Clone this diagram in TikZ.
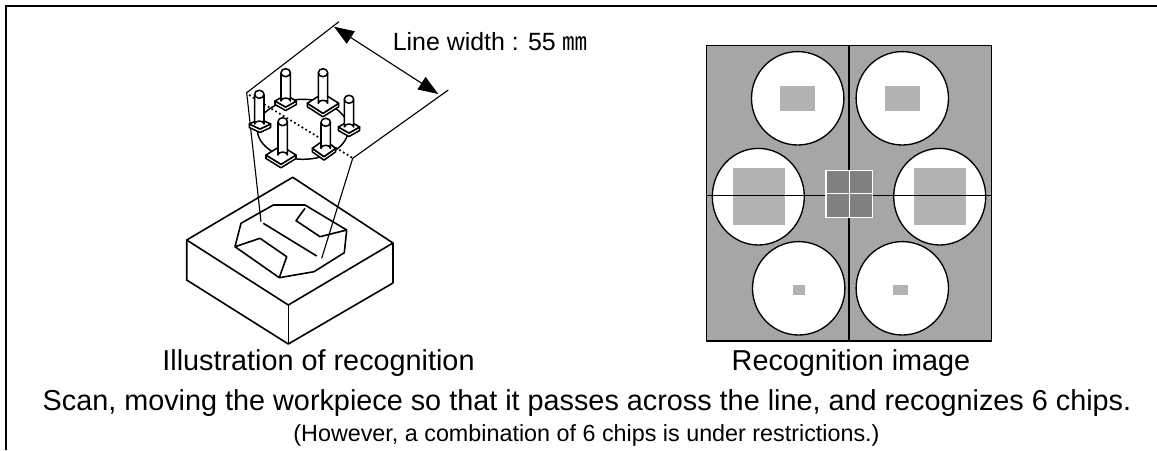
\documentclass[tikz,border=0pt]{standalone}
\usepackage{fontspec}
\setmainfont{Liberation Sans}
\newfontfamily\cjkfont{Noto Sans CJK JP}
\usetikzlibrary{arrows.meta}
\tikzset{
  frameline/.style={line width=1.5pt,black},
  solid line/.style={line width=1.2pt,black,line join=round},
  thin line/.style={line width=0.85pt,black,line join=round},
  pin line/.style={line width=1.15pt,black,fill=white,line join=round},
  capbig/.style={anchor=base,inner sep=0pt,font=\fontsize{21.6pt}{24pt}\selectfont},
  caplabel/.style={anchor=base west,inner sep=0pt,font=\fontsize{18.7pt}{22pt}\selectfont},
  capsmall/.style={anchor=base,inner sep=0pt,font=\fontsize{17.5pt}{20pt}\selectfont},
  panel/.style={fill=panelgray,draw=black,line width=1pt},
  disc/.style={fill=white,draw=black,line width=1pt},
  chip/.style={fill=chipgray,draw=none},
  crossline/.style={draw=black,line width=1pt},
  centergrid/.style={fill=centergray,draw=white,line width=0.8pt},
}
\definecolor{panelgray}{HTML}{A6A6A6}
\definecolor{chipgray}{HTML}{B2B2B2}
\definecolor{centergray}{HTML}{808080}
% #1 shaft x, #2 shaft top y, #3 pad x, #4 pad y, #5 pad half width, #6 pad half height, #7 shaft half width
\newcommand{\chipin}[7]{%
  \draw[pin line] (#3-#5,#4) -- (#3-#5,#4+3.5) -- (#3,#4+#6+3.5) -- (#3+#5,#4+3.5) -- (#3+#5,#4) -- (#3,#4+#6) -- cycle;
  \draw[pin line] (#3-#5,#4) -- (#3,#4-#6) -- (#3+#5,#4) -- (#3,#4+#6) -- cycle;
  \draw[pin line] (#1-#7,#2) -- (#1-#7,#4) arc[start angle=180,end angle=360,x radius=#7,y radius=3] -- (#1+#7,#2);
  \draw[pin line] (#1,#2) ellipse[x radius=#7,y radius=4];
}
\begin{document}
\begin{tikzpicture}[x=0.75pt,y=-0.75pt]
\useasboundingbox (0,0) rectangle (1157,450);
% outer frame
\coordinate (fa) at (6,450);
\coordinate (fb) at (6,6);
\coordinate (fc) at (1157,6);
\draw[frameline] (fa) -- (fb) -- (fc);

% scan band
\coordinate (ba) at (339,21.7);
\coordinate (bb) at (246.7,92.7);
\coordinate (bc) at (261,221.7);
\coordinate (bd) at (448.3,90);
\coordinate (be) at (352.7,158.3);
\coordinate (bf) at (321.7,258.3);
\coordinate (aa) at (334,26.7);
\coordinate (ab) at (438.3,94);
\draw[thin line] (ba) -- (bb) -- (bc);
\draw[thin line] (bd) -- (be);
\draw[thin line] (be) -- (bf);
\draw[thin line,{Triangle[length=15pt,width=11pt]}-{Triangle[length=15pt,width=11pt]}] (aa) -- (ab);

% chuck
\draw[line width=1.1pt] (302.8,129.3) ellipse[x radius=45.5,y radius=30];
\draw[line width=1.3pt,dotted] (249,95) -- (352.7,158);
\chipin{285.7}{72.7}{285.7}{101}{10.7}{6}{4.7}
\chipin{323}{72.7}{323}{103.3}{15.7}{10}{4.7}
\chipin{349}{99.3}{349}{127}{10.7}{6}{4.7}
\chipin{259.3}{94.3}{260}{124}{10.7}{5}{4.7}
\chipin{282.7}{121.7}{281}{155}{15}{9.3}{4.7}
\chipin{325.7}{122.3}{324}{148.3}{11.7}{8.3}{4.7}

% block
\draw[solid line] (292.7,177.3) -- (186.7,240) -- (288.3,305) -- (393,243) -- cycle;
\draw[solid line] (186.7,240) -- (186.7,280) -- (288.3,344) -- (393,283);
\draw[solid line] (288.3,305) -- (288.3,344);
\draw[solid line] (393,243) -- (393,283);
% workpiece outline
\draw[solid line] (235,246.7) -- (241,223.3) -- (273.3,205) -- (305,205) -- (346.7,230) -- (344.3,252.7) -- (314,271.7) -- (279.3,277.7) -- cycle;
\draw[solid line] (279.3,277.7) -- (286.7,256.7) -- (260,238.3) -- (235,246.7);
\draw[solid line] (305,208.3) -- (296,220.7) -- (320,236.7) -- (346.7,230);
\draw[solid line] (263.3,223.3) -- (316.7,256);

% recognition image
\draw[panel] (706.7,45.7) rectangle (991.7,341);
\draw[disc] (797.7,98.3) ellipse[x radius=46.2,y radius=46.7];
\draw[disc] (902.3,98.3) ellipse[x radius=46.2,y radius=46.7];
\draw[disc] (758.3,196.7) ellipse[x radius=46,y radius=48.3];
\draw[disc] (939.7,196.7) ellipse[x radius=46,y radius=48.3];
\draw[disc] (798.7,288.3) ellipse[x radius=46.2,y radius=46.7];
\draw[disc] (902.3,288.3) ellipse[x radius=46.2,y radius=46.7];
\fill[chip] (780,86) rectangle (815,111);
\fill[chip] (885,86) rectangle (920,111);
\fill[chip] (733,168) rectangle (785,225);
\fill[chip] (914,168) rectangle (966,225);
\fill[chip] (793,285) rectangle (805,295);
\fill[chip] (893,285) rectangle (908,295);
\coordinate (va) at (849,45.7);
\coordinate (vb) at (849,341);
\coordinate (ha) at (706.7,195.3);
\coordinate (hb) at (991.7,195.3);
\draw[crossline] (va) -- (vb);
\draw[crossline] (ha) -- (hb);
\draw[centergrid] (826,170.3) rectangle (872.3,217.3);
\draw[white,line width=0.8pt] (849.2,170.3) -- (849.2,217.3);
\draw[white,line width=0.8pt] (826,193.8) -- (872.3,193.8);

% texts
\node[caplabel] (lw) at (392.5,50.7) {Line width : 55 {\cjkfont ㎜}};
\node[capbig] (cap1) at (318.5,370) {Illustration of recognition};
\node[capbig] (cap2) at (851,370) {Recognition image};
\node[capbig] (scan) at (587,410) {Scan, moving the workpiece so that it passes across the line, and recognizes 6 chips.};
\node[capsmall] (note) at (586.5,441) {(However, a combination of 6 chips is under restrictions.)};
\end{tikzpicture}
\end{document}
